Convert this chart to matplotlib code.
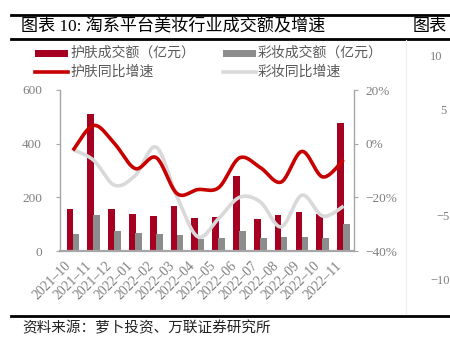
import numpy as np
import matplotlib
matplotlib.use("Agg")
import matplotlib.pyplot as plt
from matplotlib.patches import Rectangle
from matplotlib.lines import Line2D

# ---- data -------------------------------------------------------------
months = ["2021-10", "2021-11", "2021-12", "2022-01", "2022-02", "2022-03",
          "2022-04", "2022-05", "2022-06", "2022-07", "2022-08", "2022-09",
          "2022-10", "2022-11"]
skincare_gmv = [158, 509, 158, 139, 129, 166, 123, 126, 280, 120, 133, 144, 138, 478]
makeup_gmv = [64, 133, 73, 68, 64, 60, 43, 50, 74, 50, 53, 53, 47, 102]
skincare_yoy = [-2.5, 6.8, 0.0, -9.3, -5.2, -18.6, -17.1, -16.4, -5.3, -8.9,
                -14.3, -2.9, -12.4, -6.0]
makeup_yoy = [-2.2, -6.2, -15.5, -11.8, -1.3, -19.8, -34.7, -27.9, -20.0,
              -21.7, -31.0, -19.2, -27.0, -23.3]
left_ticks = [0, 200, 400, 600]
right_ticks = [-40, -20, 0, 20]

title = "图表 10: 淘系平台美妆行业成交额及增速"
legend_labels = ["护肤成交额（亿元）", "彩妆成交额（亿元）", "护肤同比增速", "彩妆同比增速"]
source = "资料来源：萝卜投资、万联证券研究所"

# ---- style ------------------------------------------------------------
W, H = 450, 341
BAR_RED = "#A50021"
BAR_GREY = "#8C8C8C"
LINE_RED = "#C80000"
LINE_GREY = "#D9D9D9"
TICK_C = "#7F7F7F"
LEG_C = "#595959"
SPINE_C = "#A6A6A6"
CJK = ["Noto Sans CJK SC", "DejaVu Sans"]
SERIF_CJK = ["Liberation Serif", "Noto Sans CJK SC"]

plt.rcParams["font.family"] = CJK


def fx(x):
    return x / W


def fy(y):
    return 1 - y / H


def smooth(xs, ys, n=24):
    """Catmull-Rom curve through the given points."""
    xs = np.asarray(xs, float)
    ys = np.asarray(ys, float)
    px = np.concatenate([[xs[0]], xs, [xs[-1]]])
    py = np.concatenate([[ys[0]], ys, [ys[-1]]])
    out_x, out_y = [], []
    t = np.linspace(0, 1, n, endpoint=False)
    for i in range(1, len(px) - 2):
        for arr, out in ((px, out_x), (py, out_y)):
            p0, p1, p2, p3 = arr[i - 1], arr[i], arr[i + 1], arr[i + 2]
            out.extend(0.5 * ((2 * p1) + (-p0 + p2) * t
                              + (2 * p0 - 5 * p1 + 4 * p2 - p3) * t ** 2
                              + (-p0 + 3 * p1 - 3 * p2 + p3) * t ** 3))
    out_x.append(xs[-1])
    out_y.append(ys[-1])
    return np.array(out_x), np.array(out_y)


fig = plt.figure(figsize=(W / 100, H / 100), dpi=100)
fig.patch.set_facecolor("white")

ax = fig.add_axes([fx(60), fy(251), fx(354) - fx(60), fy(90) - fy(251)])
ax2 = ax.twinx()

x = np.arange(len(months))
ax.bar(x - 0.145, skincare_gmv, width=0.32, color=BAR_RED, zorder=2)
ax.bar(x + 0.145, makeup_gmv, width=0.32, color=BAR_GREY, zorder=2)

sx, sy = smooth(x, makeup_yoy)
ax2.plot(sx, sy, color=LINE_GREY, lw=2.6, solid_capstyle="butt")
sx, sy = smooth(x, skincare_yoy)
ax2.plot(sx, sy, color=LINE_RED, lw=2.6, solid_capstyle="butt")

ax.set_xlim(-0.62, 13.5)
ax.set_ylim(0, 600)
ax2.set_ylim(-40, 20)

ax.set_yticks(left_ticks)
ax.set_yticklabels([str(v) for v in left_ticks], family="Liberation Serif",
                   fontsize=9.5, color=TICK_C)
ax2.set_yticks(right_ticks)
ax2.set_yticklabels([f"{v}%".replace("-", "\u2212") for v in right_ticks],
                    family="Liberation Serif", fontsize=9.5, color=TICK_C)
ax.set_xticks(x)
ax.set_xticklabels([m.replace("-", "\u2013") for m in months], rotation=45,
                   ha="right", va="top", rotation_mode="default",
                   family="Liberation Serif", fontsize=9.8, color=TICK_C)

for a in (ax, ax2):
    for s in a.spines.values():
        s.set_visible(False)
ax.spines["left"].set_visible(True)
ax.spines["left"].set_color(SPINE_C)
ax.spines["left"].set_linewidth(1.0)
ax.spines["bottom"].set_visible(True)
ax.spines["bottom"].set_color(SPINE_C)
ax.spines["bottom"].set_linewidth(1.6)
ax2.spines["right"].set_visible(True)
ax2.spines["right"].set_color(SPINE_C)
ax2.spines["right"].set_linewidth(1.0)

ax.tick_params(axis="y", length=3, width=0.8, color=SPINE_C, pad=10)
ax.tick_params(axis="x", length=0, pad=6)
ax2.tick_params(axis="y", length=3, width=0.8, color=SPINE_C, pad=5)

# ---- legend ---------------------------------------------------------
for (x0, yy, kind, col, lab) in [
    (35, 53, "patch", BAR_RED, legend_labels[0]),
    (223, 53, "patch", BAR_GREY, legend_labels[1]),
    (35, 72, "line", LINE_RED, legend_labels[2]),
    (223, 72, "line", LINE_GREY, legend_labels[3]),
]:
    if kind == "patch":
        fig.add_artist(Rectangle((fx(x0), fy(yy + 3.5)), fx(33), 7 / H,
                                 transform=fig.transFigure, color=col, lw=0))
    else:
        fig.add_artist(Line2D([fx(x0), fx(x0 + 33)], [fy(yy), fy(yy)],
                              transform=fig.transFigure, color=col, lw=2.6))
    fig.text(fx(x0 + 35), fy(yy), lab, fontsize=10, color=LEG_C,
             ha="left", va="center", family=CJK)

# ---- frame, title and source ---------------------------------------
for yy, lw in ((15, 2.0), (39, 2.0), (315.5, 2.0)):
    fig.add_artist(Line2D([fx(11), 1.0], [fy(yy), fy(yy)],
                          transform=fig.transFigure, color="black", lw=lw))
fig.add_artist(Line2D([fx(406), fx(406)], [fy(40), fy(314)],
                      transform=fig.transFigure, color="#EEEEEE", lw=0.8))

fig.text(fx(21), fy(26.5), title, fontsize=12.3, color="black",
         ha="left", va="center", family=SERIF_CJK)
fig.text(fx(413), fy(26.5), "图表", fontsize=12.3, color="black",
         ha="left", va="center", family=SERIF_CJK)
fig.text(fx(22), fy(328), source, fontsize=10.5, color="#222222",
         ha="left", va="center", family=CJK)

# neighbouring chart's axis labels at the right edge
for lab, xx, yy in (("10", 430, 57), ("5", 440, 111),
                    ("\u22125", 436, 217), ("\u221210", 430, 281)):
    fig.text(fx(xx), fy(yy), lab, fontsize=9, color=TICK_C,
             ha="left", va="center", family="Liberation Serif")

fig.savefig("out.png", dpi=100)
